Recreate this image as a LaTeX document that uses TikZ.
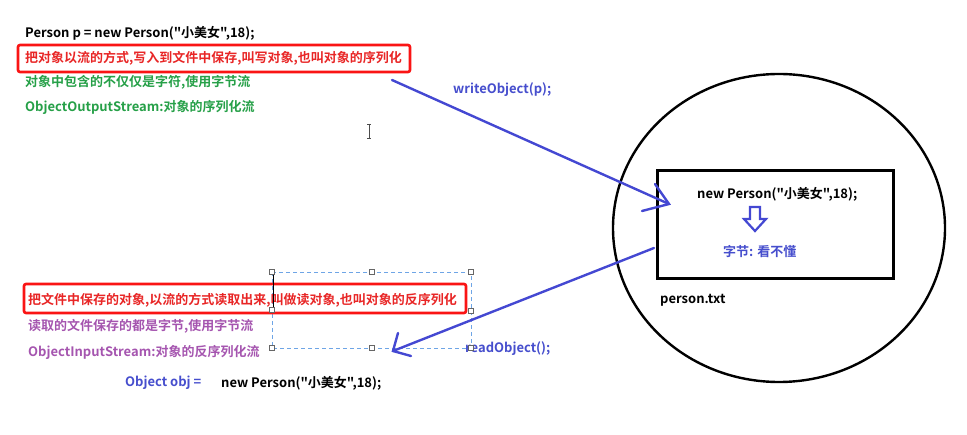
\documentclass[tikz,border=0pt]{standalone}
\usepackage{fontspec}
\newfontfamily\yh{Noto Sans CJK SC}[BoldFont={Noto Sans CJK SC Bold}]
\definecolor{myred}{RGB}{232,38,38}
\definecolor{boxred}{RGB}{250,20,20}
\definecolor{mygreen}{RGB}{38,160,72}
\definecolor{mypurple}{RGB}{165,85,175}
\definecolor{myblue}{RGB}{70,78,205}
\definecolor{arrblue}{RGB}{68,72,210}
\definecolor{selblue}{RGB}{110,165,230}
\tikzset{
  txt/.style={anchor=west,inner sep=0pt,font=\yh\fontsize{13}{15}\selectfont\bfseries},
  redbox/.style={draw=boxred,line width=2.6pt,rounded corners=2pt},
  handarrow/.style={draw=arrblue,line width=2.4pt,line cap=round},
  handle/.style={draw=gray!80!black,fill=white,line width=0.6pt,minimum size=4.5pt,inner sep=0pt,rectangle},
}
\begin{document}
\begin{tikzpicture}[x=1pt,y=-1pt]
\useasboundingbox (0,0) rectangle (967,435);
% top texts
\node[txt] (t1) at (25,33) {Person p = new Person("小美女",18);};
\draw[redbox] (18,45) rectangle (410,72);
\node[txt,text=myred] (t2) at (25,58) {把对象以流的方式,写入到文件中保存,叫写对象,也叫对象的序列化};
\node[txt,text=mygreen] (t3) at (25,82) {对象中包含的不仅仅是字符,使用字节流};
\node[txt,text=mygreen] (t4) at (25,107) {ObjectOutputStream:对象的序列化流};
\node[txt,text=myblue] (w) at (453,90) {writeObject(p);};
% I-beam cursor
\draw[black!70,line width=0.8pt] (367,124) -- (371,124) (369,124) -- (369,138) (367,138) -- (371,138);
% circle and file
\draw[line width=2.4pt] (779,228) ellipse [x radius=166, y radius=154];
\draw[line width=3pt] (657,171) rectangle (893,279);
\node[txt] (np) at (697,194) {new Person("小美女",18);};
\draw[arrblue,line width=2.2pt,line join=miter] (750,207) -- (760,207) -- (760,219) -- (766,219) -- (755,231) -- (744,219) -- (750,219) -- cycle;
\node[txt,text=myblue] (bytes) at (723,252) {字节: 看不懂};
\node[txt] (ptxt) at (660,300) {person.txt};
% write arrow
\coordinate (ws) at (392,80);
\coordinate (wt) at (669,204);
\draw[handarrow] (ws) -- (wt);
\draw[handarrow] (655,184) -- (wt) -- (642,211);
% selection box
\draw[selblue,dashed,dash pattern=on 4pt off 3pt,line width=0.8pt] (272,272) rectangle (471,348);
% bottom texts
\draw[redbox] (24,284) rectangle (466,313);
\node[txt,text=myred] (b1) at (28,300) {把文件中保存的对象,以流的方式读取出来,叫做读对象,也叫对象的反序列化};
\node[txt,text=mypurple] (b2) at (28,326) {读取的文件保存的都是字节,使用字节流};
\node[txt,text=mypurple] (b3) at (28,352) {ObjectInputStream:对象的反序列化流};
\node[txt,text=myblue] (r) at (465,349) {readObject();};
\draw[black,line width=1pt] (273,272) -- (273,310);
\foreach \p in {(272,272),(372,272),(471,272),(272,310),(471,311),(272,348),(372,348),(471,348)}
  \node[handle] at \p {};
\node[txt,text=myblue] (o1) at (125,383) {Object obj =};
\node[txt] (o2) at (221,383) {new Person("小美女",18);};
% read arrow
\coordinate (rs) at (654,248);
\coordinate (rt) at (393,351);
\draw[handarrow] (rs) -- (rt);
\draw[handarrow] (398,333) -- (rt) -- (411,356);
\end{tikzpicture}
\end{document}
